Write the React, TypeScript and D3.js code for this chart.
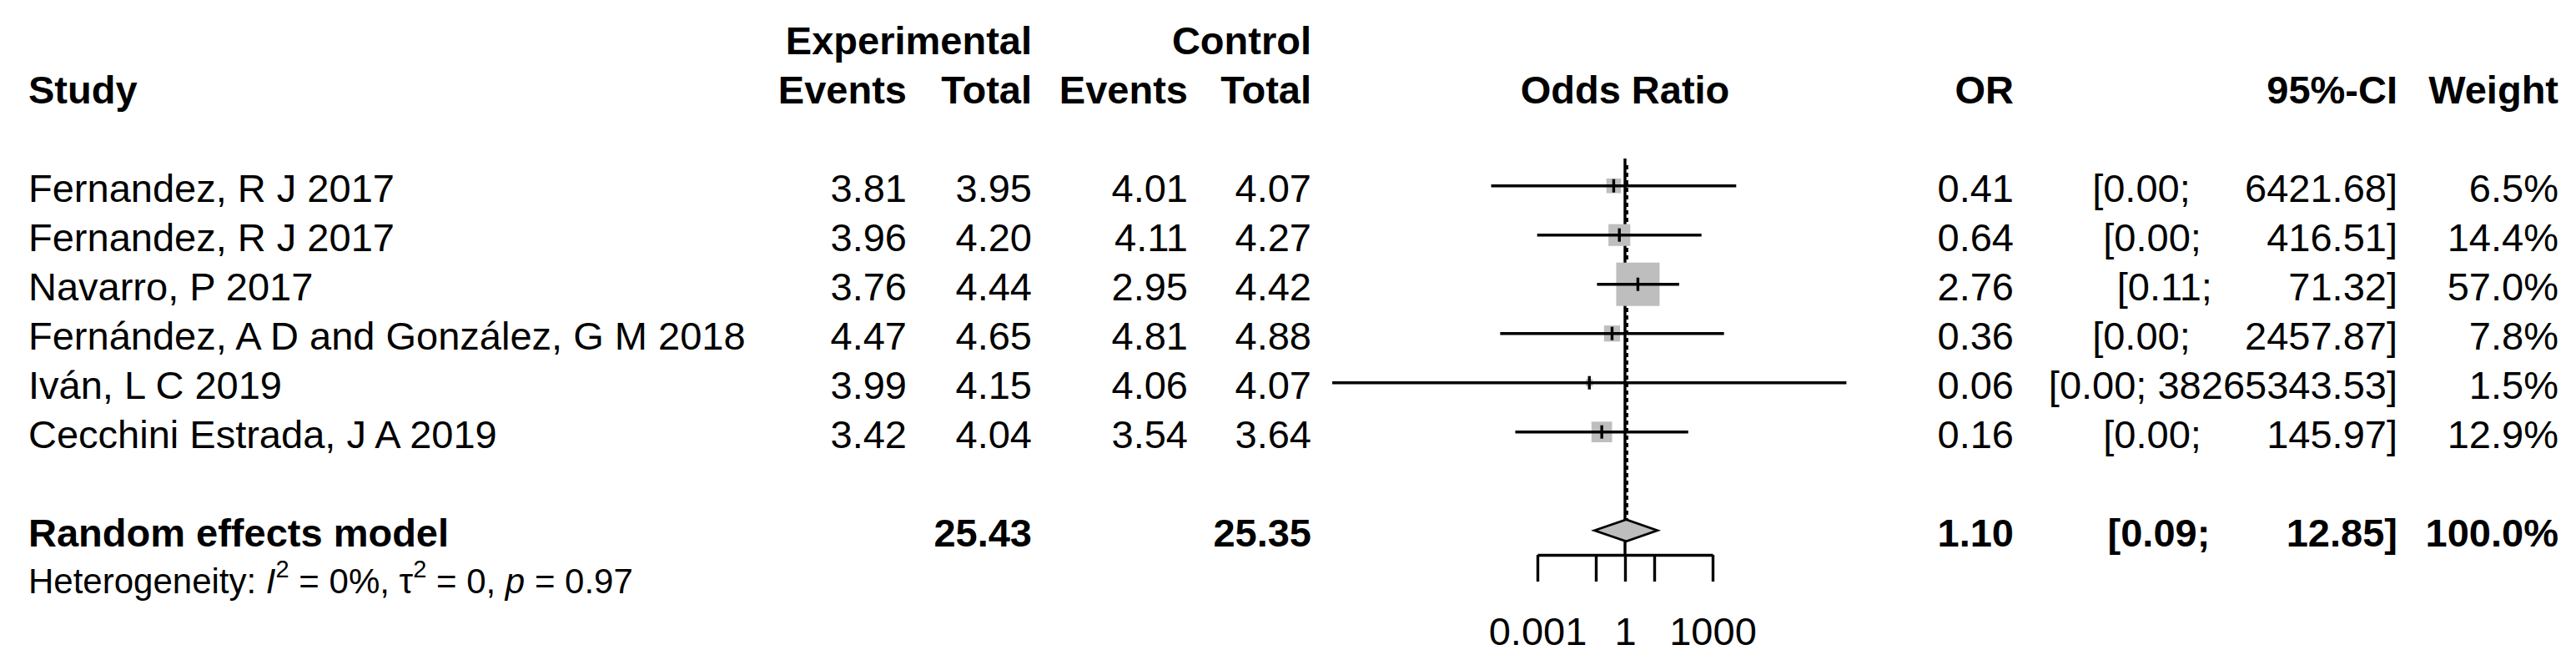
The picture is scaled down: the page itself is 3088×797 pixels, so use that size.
import { useEffect, useRef } from 'react';
import * as d3 from 'd3';

const studies = [
  'Fernandez, R J 2017',
  'Fernandez, R J 2017',
  'Navarro, P 2017',
  'Fernández, A D and González, G M 2018',
  'Iván, L C 2019',
  'Cecchini Estrada, J A 2019',
];
const expEvents = [3.81, 3.96, 3.76, 4.47, 3.99, 3.42];
const expTotal = [3.95, 4.2, 4.44, 4.65, 4.15, 4.04];
const ctrlEvents = [4.01, 4.11, 2.95, 4.81, 4.06, 3.54];
const ctrlTotal = [4.07, 4.27, 4.42, 4.88, 4.07, 3.64];
const oddsRatio = [0.41, 0.64, 2.76, 0.36, 0.06, 0.16];
const ciLower = [2.6e-5, 9.8e-4, 0.11, 5.3e-5, 9.4e-11, 1.75e-4];
const ciUpper = [6421.68, 416.51, 71.32, 2457.87, 38265343.53, 145.97];
const weights = [6.5, 14.4, 57.0, 7.8, 1.5, 12.9];

const pooled = { expTotal: 25.43, ctrlTotal: 25.35, or: 1.1, lower: 0.09, upper: 12.85, weight: 100.0 };
const hetero = { i2: '0%', tau2: '0', p: '0.97' };

const axisTicks = [0.001, 0.1, 1, 10, 1000];
const axisLabels = ['0.001', '', '1', '', '1000'];

const FONT = '"Liberation Sans", Arial, Helvetica, sans-serif';
const FS = 47;
const GREY = '#bebebe';
const LW = 3.4;

const col = {
  study: 34,
  expEvents: 1087,
  expTotal: 1237,
  ctrlEvents: 1424,
  ctrlTotal: 1572,
  or: 2414,
  ci: 2874,
  weight: 3067,
};

const fmtCI = (lo: number, up: number) => `[${lo.toFixed(2)}; ${up.toFixed(2).padStart(11, ' ')}]`;

export default function App() {
  const axisRef = useRef<SVGGElement>(null);

  const x = d3.scaleLog().domain([0.001, 1000]).range([1843, 2053]);
  const y = d3.scaleLinear().domain([0, 11]).range([45.7, 694.7]);
  const side = d3.scaleSqrt().domain([0, 57]).range([0, 52]);
  const base = 19.5;

  useEffect(() => {
    if (!axisRef.current) return;
    const g = d3.select(axisRef.current);
    g.selectAll('*').remove();
    g.call(
      d3
        .axisBottom(x)
        .tickValues(axisTicks)
        .tickSize(32)
        .tickSizeOuter(0)
        .tickPadding(43)
        .tickFormat((_, i) => axisLabels[i])
    );
    g.select('.domain').attr('stroke-width', LW);
    g.selectAll('.tick line').attr('stroke-width', LW);
    g.selectAll('.tick text').attr('font-size', FS).attr('font-family', FONT).attr('fill', '#000');
  }, []);

  const rowY = (i: number) => y(i + 3);
  const poolY = y(10);
  const dh = 13;

  const txt = (v: string, xx: number, yy: number, anchor = 'end', bold = false) => (
    <text
      x={xx}
      y={yy + base}
      textAnchor={anchor}
      fontWeight={bold ? 'bold' : 'normal'}
      style={{ whiteSpace: 'pre' }}
    >
      {v}
    </text>
  );

  return (
    <svg
      width={3088}
      height={797}
      style={{ position: 'absolute', left: 0, top: 0, background: '#fff' }}
      fontFamily={FONT}
      fontSize={FS}
      fill="#000"
    >
      {/* headers */}
      <g fontWeight="bold">
        {txt('Experimental', col.expTotal, y(0), 'end', true)}
        {txt('Control', col.ctrlTotal, y(0), 'end', true)}
        {txt('Study', col.study, y(1), 'start', true)}
        {txt('Events', col.expEvents, y(1), 'end', true)}
        {txt('Total', col.expTotal, y(1), 'end', true)}
        {txt('Events', col.ctrlEvents, y(1), 'end', true)}
        {txt('Total', col.ctrlTotal, y(1), 'end', true)}
        {txt('Odds Ratio', x(1), y(1), 'middle', true)}
        {txt('OR', col.or, y(1), 'end', true)}
        {txt('95%-CI', col.ci, y(1), 'end', true)}
        {txt('Weight', col.weight, y(1), 'end', true)}
      </g>

      {/* study rows */}
      {studies.map((s, i) => (
        <g key={i}>
          {txt(s, col.study, rowY(i), 'start')}
          {txt(expEvents[i].toFixed(2), col.expEvents, rowY(i))}
          {txt(expTotal[i].toFixed(2), col.expTotal, rowY(i))}
          {txt(ctrlEvents[i].toFixed(2), col.ctrlEvents, rowY(i))}
          {txt(ctrlTotal[i].toFixed(2), col.ctrlTotal, rowY(i))}
          {txt(oddsRatio[i].toFixed(2), col.or, rowY(i))}
          {txt(fmtCI(ciLower[i], ciUpper[i]), col.ci, rowY(i))}
          {txt(`${weights[i].toFixed(1)}%`, col.weight, rowY(i))}
        </g>
      ))}

      {/* pooled row */}
      {txt('Random effects model', col.study, poolY, 'start', true)}
      {txt(pooled.expTotal.toFixed(2), col.expTotal, poolY, 'end', true)}
      {txt(pooled.ctrlTotal.toFixed(2), col.ctrlTotal, poolY, 'end', true)}
      {txt(pooled.or.toFixed(2), col.or, poolY, 'end', true)}
      {txt(fmtCI(pooled.lower, pooled.upper), col.ci, poolY, 'end', true)}
      {txt(`${pooled.weight.toFixed(1)}%`, col.weight, poolY, 'end', true)}

      <text x={col.study} y={y(11) + 16} fontSize={42}>
        Heterogeneity: <tspan fontStyle="italic">I</tspan>
        <tspan fontSize={29} dy={-19}>2</tspan>
        <tspan dy={19}>{` = ${hetero.i2}, τ`}</tspan>
        <tspan fontSize={29} dy={-19}>2</tspan>
        <tspan dy={19}>{` = ${hetero.tau2}, `}</tspan>
        <tspan fontStyle="italic">p</tspan>
        {` = ${hetero.p}`}
      </text>

      {/* reference lines */}
      <line x1={x(1)} x2={x(1)} y1={190} y2={665} stroke="#000" strokeWidth={LW} />
      <line
        x1={x(pooled.or) + 0.8}
        x2={x(pooled.or) + 0.8}
        y1={198}
        y2={poolY - dh}
        stroke="#000"
        strokeWidth={LW}
        strokeDasharray="5,4"
      />

      {/* squares */}
      {weights.map((w, i) => (
        <rect
          key={i}
          x={x(oddsRatio[i]) - side(w) / 2}
          y={rowY(i) - side(w) / 2}
          width={side(w)}
          height={side(w)}
          fill={GREY}
        />
      ))}

      {/* CIs and point ticks */}
      {oddsRatio.map((o, i) => (
        <g key={i} stroke="#000" strokeWidth={LW}>
          <line x1={x(ciLower[i])} x2={x(ciUpper[i])} y1={rowY(i)} y2={rowY(i)} />
          <line x1={x(o)} x2={x(o)} y1={rowY(i) - 8} y2={rowY(i) + 8} />
        </g>
      ))}

      {/* diamond */}
      <polygon
        points={[
          [x(pooled.lower), poolY],
          [x(pooled.or), poolY - dh],
          [x(pooled.upper), poolY],
          [x(pooled.or), poolY + dh],
        ]
          .map((p) => p.join(','))
          .join(' ')}
        fill={GREY}
        stroke="#000"
        strokeWidth={2.8}
      />

      <g ref={axisRef} transform="translate(0,665)" />
    </svg>
  );
}
